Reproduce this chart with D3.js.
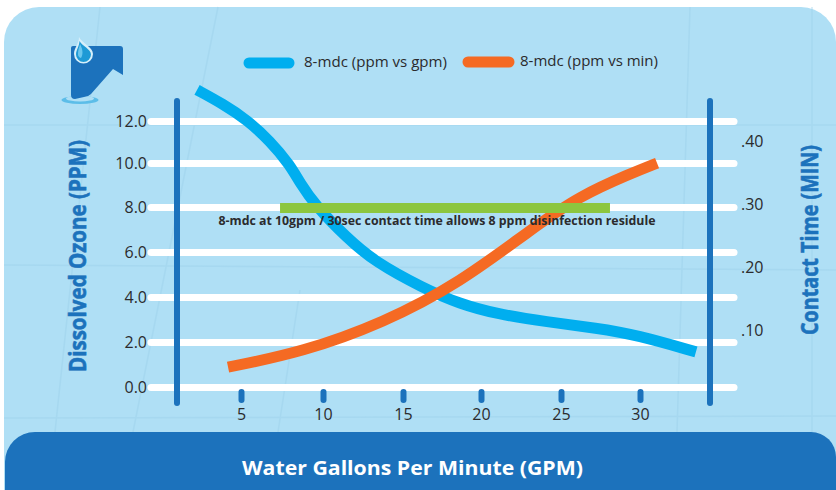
<!DOCTYPE html>
<html>
<head>
<meta charset="utf-8">
<script src="https://cdn.jsdelivr.net/npm/d3@7"></script>
<style>
  html, body { margin: 0; padding: 0; background: #fff; }
  svg { display: block; font-family: "Open Sans", sans-serif; }
  .domain { display: none; }
</style>
</head>
<body>
<div id="chart-container"></div>
<script>
const xTicks = [5, 10, 15, 20, 25, 30];
const ppmTicks = [0, 2, 4, 6, 8, 10, 12];
const minTicks = [0.1, 0.2, 0.3, 0.4];

const ppmGpm = [2.32, 3.9, 5.37, 6.77, 7.99, 8.6, 9.51, 11.5, 13.25, 16.28, 18.65, 21.0, 24.13, 27.28, 29.81, 33.54];
const ppmValues = [13.48, 12.81, 12.05, 11.05, 9.91, 9.09, 8.09, 6.62, 5.56, 4.4, 3.69, 3.24, 2.89, 2.62, 2.31, 1.56];

const minGpm = [4.21, 8.74, 13.75, 18.65, 23.25, 26.2, 29.37, 31.08];
const minValues = [0.041, 0.065, 0.111, 0.175, 0.262, 0.313, 0.348, 0.365];

const targetGpm = [7.38, 28.1];
const targetPpm = 8;

const svgWidth = 836;
const svgHeight = 490;
const blue = '#1c72bc';
const cyan = '#00aeef';
const orange = '#f56a23';
const green = '#8cc63f';
const dark = '#2b2b2d';

const svg = d3.select('#chart-container')
  .append('svg')
  .attr('width', svgWidth)
  .attr('height', svgHeight);

// the printed ticks and gridlines are not quite evenly spaced
const xScale = d3.scaleLinear().domain(xTicks).range([241, 323, 403, 481, 561, 640]);
const yLeft = d3.scaleLinear().domain(ppmTicks).range([387, 342, 297, 252, 207, 163, 121]);
const yRight = d3.scaleLinear().domain([0, 0.4]).range([393, 141]);

// panel
svg.append('path')
  .attr('d', 'M4,490V42A35,35 0 0 1 39,7H801A35,35 0 0 1 836,42V490Z')
  .attr('fill', '#afdff5');

// faint watermark lines in the background
svg.append('g')
  .attr('stroke', '#9fd3ec')
  .attr('stroke-width', 1.5)
  .attr('opacity', 0.5)
  .selectAll('line')
  .data([[100, 7, 55, 432], [218, 7, 133, 432], [300, 290, 278, 432], [690, 7, 677, 432], [812, 7, 812, 432], [4, 125, 836, 125], [4, 265, 836, 270], [4, 418, 836, 416]])
  .enter()
  .append('line')
  .attr('x1', d => d[0]).attr('y1', d => d[1])
  .attr('x2', d => d[2]).attr('y2', d => d[3]);

// bottom band
svg.append('path')
  .attr('d', 'M5,490V462A30,30 0 0 1 35,432H811A25,25 0 0 1 836,457V490Z')
  .attr('fill', blue);

// icon
const icon = svg.append('g');
icon.append('ellipse').attr('cx', 80).attr('cy', 100).attr('rx', 18.5).attr('ry', 4)
  .attr('fill', '#5cbde8');
icon.append('ellipse').attr('cx', 80).attr('cy', 98.5).attr('rx', 14).attr('ry', 3)
  .attr('fill', '#afdff5');
icon.append('path')
  .attr('d', 'M73,46H120Q123,46 123,49V75L113,69L91,94Q88,97 84,97L75,99Q71,99 71,95V48Q71,46 73,46Z')
  .attr('fill', blue);
icon.append('path')
  .attr('d', 'M79,37C82,43 93,47 93,54A9.5,9.5 0 0 1 74,54C74,48 79,44 79,37Z')
  .attr('fill', '#d6effa');
icon.append('path')
  .attr('d', 'M79.5,41C82,46 91,49 91,54.5A7.5,7.5 0 0 1 76,54.5C76,50 79.5,46 79.5,41Z')
  .attr('fill', '#1e9ad6');
icon.append('path')
  .attr('d', 'M80,44C79,48 78,50 78,54A4,4 0 0 0 81,58C84,53 82,48 80,44Z')
  .attr('fill', '#6cc7ee');

// left axis also draws the white gridlines
const leftAxis = d3.axisLeft(yLeft)
  .tickValues(ppmTicks)
  .tickFormat(d3.format('.1f'))
  .tickSize(-583)
  .tickPadding(4);

const leftG = svg.append('g')
  .attr('transform', 'translate(151, 0)')
  .call(leftAxis);
leftG.selectAll('.tick line')
  .attr('stroke', '#fff')
  .attr('stroke-width', 7)
  .attr('stroke-linecap', 'round');

const rightAxis = d3.axisRight(yRight)
  .tickValues(minTicks)
  .tickFormat(d => d3.format('.2f')(d).slice(1))
  .tickSize(0)
  .tickPadding(0);

const rightG = svg.append('g')
  .attr('transform', 'translate(741, 0)')
  .call(rightAxis);

const bottomAxis = d3.axisBottom(xScale)
  .tickValues(xTicks)
  .tickSize(8)
  .tickPadding(9);

const bottomG = svg.append('g')
  .attr('transform', 'translate(0, 392)')
  .call(bottomAxis);
bottomG.selectAll('.tick line')
  .attr('stroke', blue)
  .attr('stroke-width', 6)
  .attr('stroke-linecap', 'round');

svg.selectAll('.tick text')
  .attr('font-family', '"Open Sans", sans-serif')
  .attr('font-size', 16)
  .attr('fill', dark);

// the two tall uprights
svg.append('g')
  .selectAll('line')
  .data([177, 710])
  .enter()
  .append('line')
  .attr('x1', d => d).attr('x2', d => d)
  .attr('y1', 101).attr('y2', 403)
  .attr('stroke', blue)
  .attr('stroke-width', 6)
  .attr('stroke-linecap', 'round');

// curves
const ppmLine = d3.line()
  .x(d => xScale(d[0]))
  .y(d => yLeft(d[1]))
  .curve(d3.curveBasis);

const minLine = d3.line()
  .x(d => xScale(d[0]))
  .y(d => yRight(d[1]))
  .curve(d3.curveBasis);

svg.append('path')
  .datum(d3.zip(ppmGpm, ppmValues))
  .attr('d', ppmLine)
  .attr('fill', 'none')
  .attr('stroke', cyan)
  .attr('stroke-width', 11);

svg.append('path')
  .datum(d3.zip(minGpm, minValues))
  .attr('d', minLine)
  .attr('fill', 'none')
  .attr('stroke', orange)
  .attr('stroke-width', 11);

// 8 ppm target bar and note
svg.append('line')
  .attr('x1', xScale(targetGpm[0]))
  .attr('x2', xScale(targetGpm[1]))
  .attr('y1', yLeft(targetPpm) + 1)
  .attr('y2', yLeft(targetPpm) + 1)
  .attr('stroke', green)
  .attr('stroke-width', 10);

svg.append('text')
  .attr('x', 437)
  .attr('y', 224.5)
  .attr('text-anchor', 'middle')
  .attr('font-size', 12.5)
  .attr('font-weight', 700)
  .attr('fill', dark)
  .attr('textLength', 437)
  .attr('lengthAdjust', 'spacingAndGlyphs')
  .text('8-mdc at 10gpm / 30sec contact time allows 8 ppm disinfection residule');

// legend
const legendItems = [
  { label: '8-mdc (ppm vs gpm)', color: cyan, x1: 249, x2: 289, tx: 304, len: 143, y: 63 },
  { label: '8-mdc (ppm vs min)', color: orange, x1: 468, x2: 509, tx: 520, len: 138, y: 62 }
];

const legend = svg.append('g')
  .selectAll('g')
  .data(legendItems)
  .enter()
  .append('g');

legend.append('line')
  .attr('x1', d => d.x1).attr('x2', d => d.x2)
  .attr('y1', d => d.y).attr('y2', d => d.y)
  .attr('stroke', d => d.color)
  .attr('stroke-width', 11)
  .attr('stroke-linecap', 'round');

legend.append('text')
  .attr('x', d => d.tx)
  .attr('y', d => d.y + 4)
  .attr('font-size', 14.5)
  .attr('fill', dark)
  .attr('textLength', d => d.len)
  .attr('lengthAdjust', 'spacingAndGlyphs')
  .text(d => d.label);

// axis titles
svg.append('text')
  .attr('transform', 'translate(85.5, 256) rotate(-90)')
  .attr('text-anchor', 'middle')
  .attr('font-size', 23)
  .attr('font-weight', 700)
  .attr('fill', blue)
  .attr('stroke', blue)
  .attr('stroke-width', 0.6)
  .attr('textLength', 232)
  .attr('lengthAdjust', 'spacingAndGlyphs')
  .text('Dissolved Ozone (PPM)');

svg.append('text')
  .attr('transform', 'translate(818, 240) rotate(-90)')
  .attr('text-anchor', 'middle')
  .attr('font-size', 23)
  .attr('font-weight', 700)
  .attr('fill', blue)
  .attr('stroke', blue)
  .attr('stroke-width', 0.6)
  .attr('textLength', 190)
  .attr('lengthAdjust', 'spacingAndGlyphs')
  .text('Contact Time (MIN)');

svg.append('text')
  .attr('x', 412.5)
  .attr('y', 475)
  .attr('text-anchor', 'middle')
  .attr('font-size', 20)
  .attr('font-weight', 700)
  .attr('fill', '#fff')
  .attr('textLength', 341)
  .attr('lengthAdjust', 'spacingAndGlyphs')
  .text('Water Gallons Per Minute (GPM)');
</script>
</body>
</html>
